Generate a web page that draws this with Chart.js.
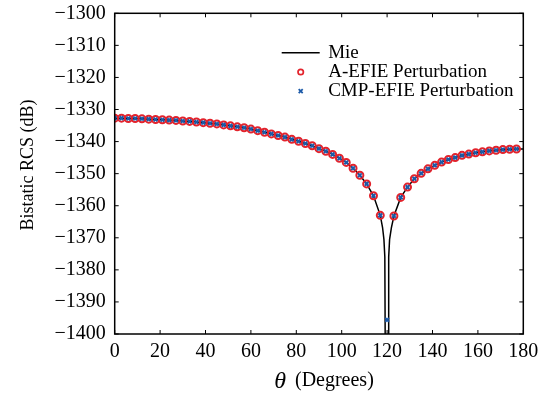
<!DOCTYPE html>
<html lang="en">
<head>
  <meta charset="UTF-8">
  <title>Bistatic RCS</title>
  <script src="https://cdn.jsdelivr.net/npm/chart.js@4/dist/chart.umd.min.js"></script>
  <style>
    body {
      margin: 0;
      padding: 0;
      background-color: #fff;
    }

    .chart-box {
      position: relative;
      width: 549px;
      height: 397px;
    }
  </style>
</head>
<body>
  <div class="chart-box">
    <canvas id="rcsChart"></canvas>
  </div>

  <script>
  // data (angles in degrees, RCS in dB)
  const theta = [0, 3, 6, 9, 12, 15, 18, 21, 24, 27, 30, 33, 36, 39, 42, 45, 48, 51, 54, 57,
    60, 63, 66, 69, 72, 75, 78, 81, 84, 87, 90, 93, 96, 99, 102, 105, 108, 111, 114, 117,
    120, 123, 126, 129, 132, 135, 138, 141, 144, 147, 150, 153, 156, 159, 162, 165, 168, 171, 174, 177];

  const aefie = [-1332.7, -1332.7, -1332.8, -1332.8, -1332.9, -1333.0, -1333.1, -1333.2, -1333.3, -1333.4,
    -1333.6, -1333.7, -1333.9, -1334.1, -1334.3, -1334.5, -1334.8, -1335.1, -1335.4, -1335.7,
    -1336.1, -1336.6, -1337.1, -1337.6, -1338.1, -1338.6, -1339.3, -1339.9, -1340.6, -1341.3,
    -1342.2, -1343.0, -1344.0, -1345.2, -1346.5, -1348.3, -1350.5, -1353.2, -1356.9, -1363.0,
    null, -1363.2, -1357.4, -1354.2, -1351.6, -1349.9, -1348.5, -1347.4, -1346.4, -1345.6,
    -1345.0, -1344.3, -1343.9, -1343.5, -1343.2, -1342.9, -1342.7, -1342.5, -1342.4, -1342.3];

  const cmpefie = [-1332.7, -1332.7, -1332.8, -1332.8, -1332.9, -1333.0, -1333.1, -1333.2, -1333.3, -1333.4,
    -1333.6, -1333.7, -1333.9, -1334.1, -1334.3, -1334.5, -1334.8, -1335.1, -1335.4, -1335.7,
    -1336.1, -1336.6, -1337.1, -1337.6, -1338.1, -1338.6, -1339.3, -1339.9, -1340.6, -1341.3,
    -1342.2, -1343.0, -1344.0, -1345.2, -1346.5, -1348.3, -1350.5, -1353.2, -1356.9, -1363.0,
    -1395.6, -1363.2, -1357.4, -1354.2, -1351.6, -1349.9, -1348.5, -1347.4, -1346.4, -1345.6,
    -1345.0, -1344.3, -1343.9, -1343.5, -1343.2, -1342.9, -1342.7, -1342.5, -1342.4, -1342.3];

  // Mie curve, with a few extra samples around the deep null near 120 deg
  const mieTheta = [0, 3, 6, 9, 12, 15, 18, 21, 24, 27, 30, 33, 36, 39, 42, 45, 48, 51, 54, 57,
    60, 63, 66, 69, 72, 75, 78, 81, 84, 87, 90, 93, 96, 99, 102, 105, 108, 111, 114, 117,
    118, 118.6, 119, 119.15, 119.8, 120.55, 120.7, 121.1, 121.9,
    123, 126, 129, 132, 135, 138, 141, 144, 147, 150, 153, 156, 159, 162, 165, 168, 171, 174, 177, 180];

  const mieRcs = [-1332.7, -1332.7, -1332.8, -1332.8, -1332.9, -1333.0, -1333.1, -1333.2, -1333.3, -1333.4,
    -1333.6, -1333.7, -1333.9, -1334.1, -1334.3, -1334.5, -1334.8, -1335.1, -1335.4, -1335.7,
    -1336.1, -1336.6, -1337.1, -1337.6, -1338.1, -1338.6, -1339.3, -1339.9, -1340.6, -1341.3,
    -1342.2, -1343.0, -1344.0, -1345.2, -1346.5, -1348.3, -1350.5, -1353.2, -1356.9, -1363.0,
    -1366.8, -1370.5, -1376.0, -1400.5, -1460.0, -1400.5, -1376.0, -1370.5, -1366.8,
    -1363.2, -1357.4, -1354.2, -1351.6, -1349.9, -1348.5, -1347.4, -1346.4, -1345.6,
    -1345.0, -1344.3, -1343.9, -1343.5, -1343.2, -1342.9, -1342.7, -1342.5, -1342.4, -1342.3, -1342.3];

  const xTickMin = 0, xTickMax = 180, xTickStep = 20;
  const yTickMin = -1400, yTickMax = -1300, yTickStep = 10;

  const serif = "'Liberation Serif', 'Times New Roman', serif";
  const red = '#e3232c';
  const blue = '#1c5aa8';

  const toPoints = (xs, ys) => xs.map((v, i) => ({ x: v, y: ys[i] }));
  const minus = v => (v < 0 ? '\u2212' + Math.abs(v) : String(v));

  // box, inward ticks, legend and axis titles (MATLAB look)
  const matlabFrame = {
    id: 'matlabFrame',
    afterDraw(chart) {
      const { ctx, chartArea: a, scales: { x, y } } = chart;
      ctx.save();
      ctx.strokeStyle = '#000';
      ctx.lineWidth = 1.5;
      ctx.strokeRect(a.left, a.top, a.right - a.left, a.bottom - a.top);

      ctx.lineWidth = 1;
      ctx.beginPath();
      x.ticks.forEach(t => {
        const px = x.getPixelForValue(t.value);
        ctx.moveTo(px, a.bottom); ctx.lineTo(px, a.bottom - 4);
        ctx.moveTo(px, a.top); ctx.lineTo(px, a.top + 4);
      });
      y.ticks.forEach(t => {
        const py = y.getPixelForValue(t.value);
        ctx.moveTo(a.left, py); ctx.lineTo(a.left + 4, py);
        ctx.moveTo(a.right, py); ctx.lineTo(a.right - 4, py);
      });
      ctx.stroke();

      ctx.fillStyle = '#000';

      // x title: italic theta + (Degrees)
      ctx.textBaseline = 'middle';
      ctx.textAlign = 'left';
      ctx.font = 'italic 24px ' + serif;
      const thW = ctx.measureText('\u03b8').width;
      ctx.font = '20px ' + serif;
      const degW = ctx.measureText('(Degrees)').width;
      const gap = 9;
      let tx = (a.left + a.right) / 2 + 5 - (thW + gap + degW) / 2;
      ctx.font = 'italic 24px ' + serif;
      ctx.fillText('\u03b8', tx, 382);
      ctx.font = '20px ' + serif;
      ctx.fillText('(Degrees)', tx + thW + gap, 381);

      // y title
      ctx.save();
      ctx.translate(28, 165);
      ctx.rotate(-Math.PI / 2);
      ctx.textAlign = 'center';
      ctx.font = '18px ' + serif;
      ctx.fillText('Bistatic RCS (dB)', 0, 0);
      ctx.restore();

      // legend inside the axes
      const lx = a.left + 167, ly = a.top + 39.5, row = 19.2;
      const mid = lx + 19;
      ctx.font = '19px ' + serif;
      ctx.textAlign = 'left';
      ctx.beginPath();
      ctx.lineWidth = 1.5;
      ctx.moveTo(lx, ly); ctx.lineTo(lx + 38, ly);
      ctx.stroke();
      ctx.fillText('Mie', lx + 46.5, ly);

      ctx.strokeStyle = red;
      ctx.lineWidth = 1.7;
      ctx.beginPath();
      ctx.arc(mid, ly + row, 2.7, 0, Math.PI * 2);
      ctx.stroke();
      ctx.fillText('A-EFIE Perturbation', lx + 46.5, ly + row);

      ctx.strokeStyle = blue;
      ctx.lineWidth = 1.8;
      ctx.beginPath();
      ctx.moveTo(mid - 2, ly + 2 * row - 2); ctx.lineTo(mid + 2, ly + 2 * row + 2);
      ctx.moveTo(mid - 2, ly + 2 * row + 2); ctx.lineTo(mid + 2, ly + 2 * row - 2);
      ctx.stroke();
      ctx.fillText('CMP-EFIE Perturbation', lx + 46.5, ly + 2 * row);

      ctx.restore();
    }
  };

  const ctx = document.getElementById('rcsChart').getContext('2d');
  new Chart(ctx, {
    type: 'scatter',
    data: {
      datasets: [{
        label: 'Mie',
        data: toPoints(mieTheta, mieRcs),
        showLine: true,
        borderColor: '#000',
        borderWidth: 1.5,
        pointRadius: 0,
        tension: 0,
        order: 3,
      }, {
        label: 'A-EFIE Perturbation',
        data: toPoints(theta, aefie),
        pointStyle: 'circle',
        pointRadius: 3.5,
        borderColor: red,
        borderWidth: 2,
        backgroundColor: 'rgba(0,0,0,0)',
        order: 2,
      }, {
        label: 'CMP-EFIE Perturbation',
        data: toPoints(theta, cmpefie),
        pointStyle: 'crossRot',
        pointRadius: 2.6,
        borderColor: blue,
        borderWidth: 2,
        order: 1,
      }]
    },
    options: {
      responsive: true,
      maintainAspectRatio: false,
      animation: false,
      layout: {
        padding: { left: 0, right: 25.7, top: 13.3, bottom: 0 }
      },
      plugins: {
        legend: { display: false },
        tooltip: { enabled: false },
      },
      scales: {
        x: {
          type: 'linear',
          min: xTickMin,
          max: xTickMax,
          grid: { display: false, drawTicks: false },
          border: { display: false },
          ticks: {
            stepSize: xTickStep,
            padding: 6,
            color: '#000',
            font: { family: serif, size: 20 },
            maxRotation: 0,
          },
          afterFit(scale) {
            scale.height = 63;
            scale.paddingLeft = 0;
            scale.paddingRight = 0;
          },
        },
        y: {
          type: 'linear',
          min: yTickMin,
          max: yTickMax,
          grid: { display: false, drawTicks: false },
          border: { display: false },
          ticks: {
            stepSize: yTickStep,
            padding: 9,
            color: '#000',
            font: { family: serif, size: 20 },
            callback: v => minus(v),
          },
          afterFit(scale) {
            scale.width = 114.7;
            scale.paddingTop = 0;
            scale.paddingBottom = 0;
          },
        },
      },
    },
    plugins: [matlabFrame],
  });
  </script>
</body>
</html>
